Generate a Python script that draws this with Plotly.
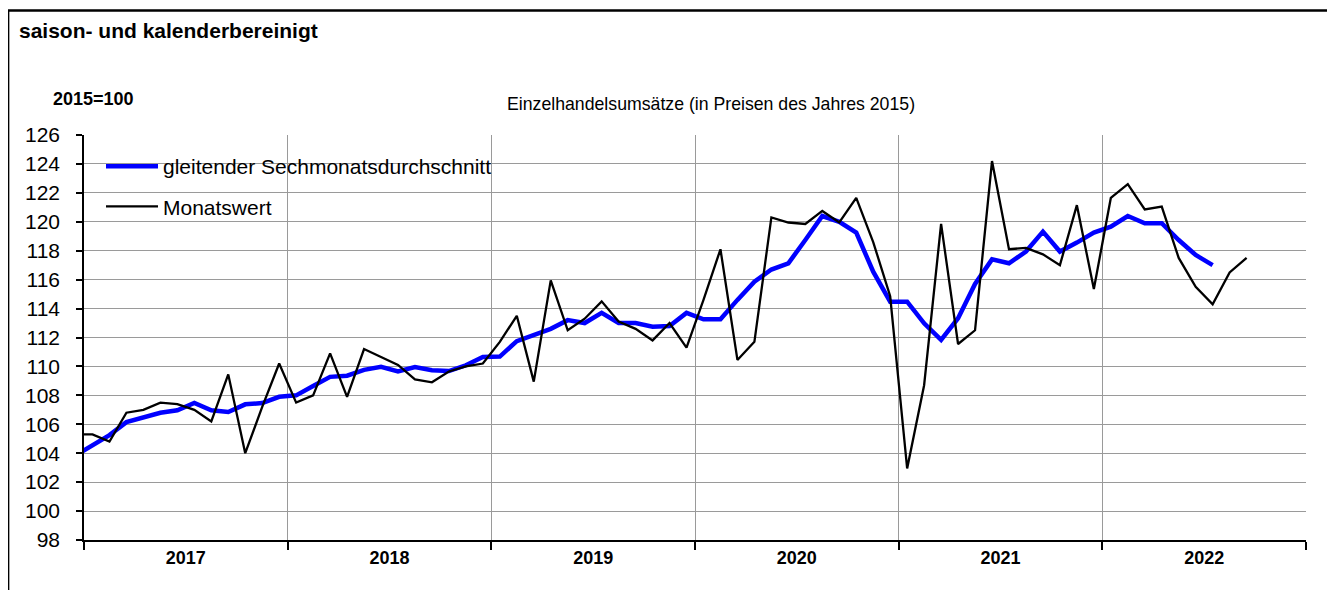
import plotly.graph_objects as go

# ---------------- data (first value = Dec 2016) ----------------
monatswert = [
    105.3,
    105.3, 104.8, 106.8, 107.0, 107.5, 107.4, 107.0, 106.2, 109.45, 104.0, 107.2, 110.2,
    107.5, 108.0, 110.9, 107.9, 111.2, 110.65, 110.1, 109.1, 108.9, 109.65, 110.0, 110.2,
    111.7, 113.5, 108.95, 115.95, 112.5, 113.3, 114.5, 113.1, 112.6, 111.8, 113.0, 111.3,
    114.6, 118.1, 110.45, 111.7, 120.3, 119.95, 119.85, 120.75, 119.95, 121.65, 118.6, 114.85,
    102.95, 108.7, 119.85, 111.55, 112.5, 124.2, 118.1, 118.2, 117.75, 117.0, 121.15, 115.35,
    121.65, 122.6, 120.85, 121.05, 117.5, 115.5, 114.3, 116.5, 117.5,
]
gleitender = [
    103.85,
    104.55, 105.25, 106.15, 106.5, 106.8, 106.97, 107.47, 106.97, 106.85, 107.38, 107.47, 107.9,
    108.0, 108.65, 109.28, 109.36, 109.76, 109.97, 109.65, 109.95, 109.74, 109.68, 110.08, 110.66,
    110.68, 111.75, 112.15, 112.6, 113.2, 113.0, 113.7, 113.0, 113.0, 112.75, 112.8, 113.7,
    113.26, 113.26, 114.6, 115.86, 116.7, 117.13, 118.74, 120.4, 120.0, 119.25, 116.55, 114.48,
    114.48, 112.98, 111.83, 113.33, 115.7, 117.4, 117.13, 117.94, 119.32, 117.94, 118.56, 119.25,
    119.66, 120.4, 119.9, 119.9, 118.74, 117.7, 117.0,
]
years = ["2017", "2018", "2019", "2020", "2021", "2022"]
y_ticks = [98, 100, 102, 104, 106, 108, 110, 112, 114, 116, 118, 120, 122, 124, 126]

name_avg = "gleitender Sechmonatsdurchschnitt"
name_month = "Monatswert"
title_text = "saison- und kalenderbereinigt"
unit_text = "2015=100"
sub_text = "Einzelhandelsumsätze (in Preisen des Jahres 2015)"

# month index: Jan 2017 = 0, first value is Dec 2016 (-1)
x_month = list(range(-1, len(monatswert) - 1))
x_avg = list(range(-1, len(gleitender) - 1))

year_centers = [12 * i + 5.5 for i in range(len(years))]
year_bounds = [12 * i - 0.5 for i in range(len(years) + 1)]

# ---------------- layout geometry ----------------
# page body has an 8px margin, so the figure is drawn 8px smaller and
# all target screen pixels are shifted by OFF.
OFF = 8
W, H = 1335 - OFF, 590 - OFF
PL, PR, PT, PB = 84, 1306, 135, 540          # plot area in screen px
ML, MR, MT, MB = PL - OFF, W - (PR - OFF), PT - OFF, H - (PB - OFF)
PW = W - ML - MR
PH = H - MT - MB


def px(x):
    return (x - OFF - ML) / PW


def py(y):
    return (H - MB - (y - OFF)) / PH


FONT = "Liberation Sans, Arial, sans-serif"

fig = go.Figure()
fig.add_trace(go.Scatter(
    x=x_avg, y=gleitender, mode="lines", name=name_avg,
    line=dict(color="#0000FF", width=4.5), legendgroup="a",
))
fig.add_trace(go.Scatter(
    x=x_month, y=monatswert, mode="lines", name=name_month,
    line=dict(color="#000000", width=2.3), legendgroup="b",
))

fig.update_layout(
    width=W, height=H,
    margin=dict(l=ML, r=MR, t=MT, b=MB, pad=0),
    paper_bgcolor="white", plot_bgcolor="white",
    font=dict(family=FONT, color="black"),
    showlegend=True,
    legend=dict(
        x=px(101), y=py(146), xanchor="left", yanchor="top",
        bgcolor="rgba(0,0,0,0)", borderwidth=0,
        font=dict(family=FONT, size=21, color="black"),
        traceorder="grouped", tracegroupgap=10,
        itemwidth=52,
    ),
    xaxis=dict(
        range=[-0.5, 71.5], tickmode="array", tickvals=year_centers, ticktext=years,
        ticks="", showgrid=False, zeroline=False,
        showline=True, linecolor="black", linewidth=1.5,
        tickfont=dict(family=FONT, size=18, color="black", weight="bold"),
        ticklabelstandoff=1,
        minor=dict(tickmode="array", tickvals=year_bounds, ticks="outside", ticklen=8,
                   tickcolor="black", tickwidth=1.5, showgrid=True,
                   gridcolor="#9a9a9a", gridwidth=1.2),
    ),
    yaxis=dict(
        range=[98, 126], tickmode="array", tickvals=y_ticks,
        ticks="outside", ticklen=6, tickcolor="black", tickwidth=1.5,
        showline=True, linecolor="black", linewidth=1.5,
        showgrid=True, gridcolor="#9a9a9a", gridwidth=1.2, zeroline=False,
        tickfont=dict(family=FONT, size=21, color="black"),
        ticklabelstandoff=12,
    ),
    shapes=[
        # outer frame
        dict(type="rect", xref="paper", yref="paper",
             x0=px(8.2), x1=px(1330), y0=py(610), y1=py(10.5),
             line=dict(color="black", width=2.3), fillcolor="rgba(0,0,0,0)", layer="above"),
        # legend background
        dict(type="rect", xref="paper", yref="paper",
             x0=px(103), x1=px(504), y0=py(227), y1=py(147),
             line=dict(width=0), fillcolor="white", layer="between"),
    ],
    annotations=[
        dict(text=f"<b>{title_text}</b>", xref="paper", yref="paper",
             x=px(17), y=py(31), xanchor="left", yanchor="middle", showarrow=False,
             font=dict(family=FONT, size=21, color="black")),
        dict(text=f"<b>{unit_text}</b>", xref="paper", yref="paper",
             x=px(51), y=py(99), xanchor="left", yanchor="middle", showarrow=False,
             font=dict(family=FONT, size=18, color="black")),
        dict(text=sub_text, xref="paper", yref="paper",
             x=px(505), y=py(104), xanchor="left", yanchor="middle", showarrow=False,
             font=dict(family=FONT, size=17.7, color="black")),
    ],
)

fig.write_html("out.html")
